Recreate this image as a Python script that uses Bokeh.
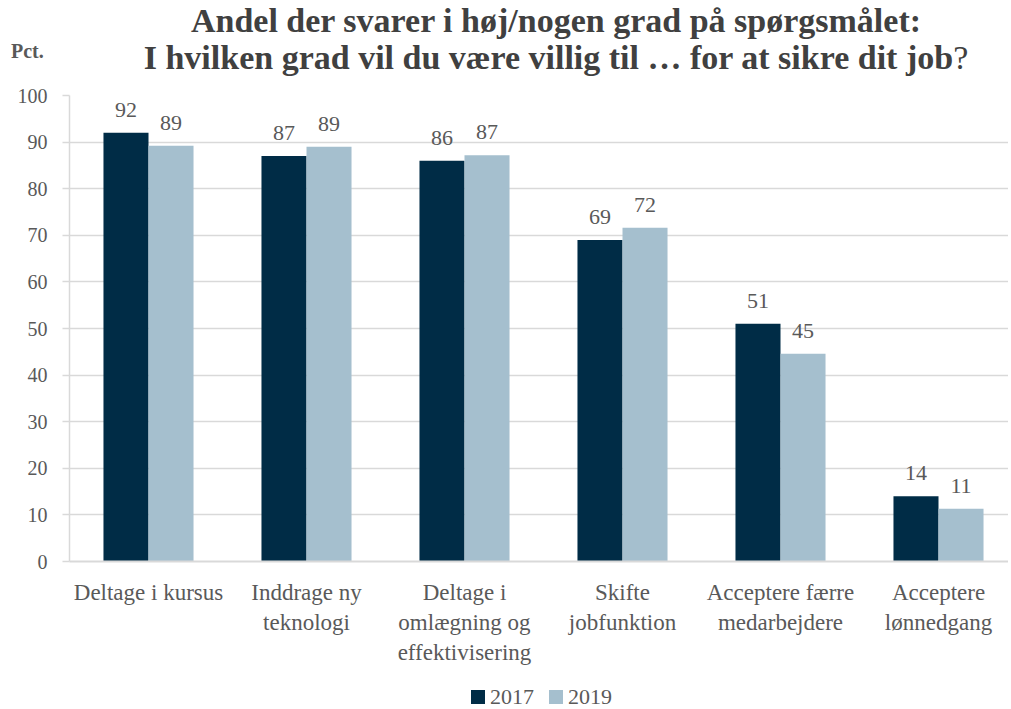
from bokeh.plotting import figure
from bokeh.layouts import column
from bokeh.models import ColumnDataSource, FixedTicker, Div
from bokeh.core.properties import value
from bokeh.embed import file_html
from bokeh.resources import INLINE

categories = ["Deltage i kursus", "Inddrage ny\nteknologi", "Deltage i\nomlægning og\neffektivisering",
              "Skifte\njobfunktion", "Acceptere færre\nmedarbejdere", "Acceptere\nlønnedgang"]
v2017 = [92, 87, 86, 69, 51, 14]
v2019 = [89.2, 89.0, 87.2, 71.6, 44.6, 11.3]
series = ["2017", "2019"]
colors = ["#002C46", "#A5BFCE"]
title_line1 = "Andel der svarer i høj/nogen grad på spørgsmålet:"
title_line2 = "I hvilken grad vil du være villig til … for at sikre dit job"
y_unit = "Pct."
y_ticks = [0, 10, 20, 30, 40, 50, 60, 70, 80, 90, 100]

FONT = "Liberation Serif"
GRAY = "#595959"
DARK = "#404040"
GRID = "#D9D9D9"

W = 1008
HEAD = 80          # header height (title)
LEG = 25           # legend strip height
H = 706 - HEAD - LEG
L = 69             # frame left
T = 95 - HEAD      # frame top within figure
B = 561 - HEAD     # frame bottom within figure

header = Div(text=(
    f'<div style="position:relative;width:{W}px;height:{HEAD}px;font-family:\'{FONT}\';color:{DARK};">'
    f'<div style="position:absolute;left:106px;top:2px;width:900px;text-align:center;'
    f'font-size:34px;font-weight:bold;line-height:37px;white-space:nowrap;">'
    f'{title_line1}<br>{title_line2}<span style="font-weight:normal">?</span></div>'
    f'<div style="position:absolute;left:11px;top:41px;font-size:20px;font-weight:bold;'
    f'line-height:20px;color:{GRAY};">{y_unit}</div></div>'),
    width=W, height=HEAD, margin=0)

p = figure(width=W, height=H, output_backend="svg", toolbar_location=None,
           x_range=(0, (W - L) / 158.0), y_range=(0, 100),
           min_border_left=L, min_border_right=0, min_border_top=T, min_border_bottom=H - B)
p.outline_line_color = None
p.background_fill_color = "white"

bw = 0.285
centers = [i + 0.5 for i in range(len(categories))]
x17 = [c - bw / 2 for c in centers]
x19 = [c + bw / 2 for c in centers]
s17 = ColumnDataSource(dict(x=x17, top=v2017, lab=[f"{round(v)}" for v in v2017]))
s19 = ColumnDataSource(dict(x=x19, top=v2019, lab=[f"{round(v)}" for v in v2019]))
p.vbar(x="x", top="top", width=bw, bottom=0, source=s17, fill_color=colors[0], line_color=None)
p.vbar(x="x", top="top", width=bw, bottom=0, source=s19, fill_color=colors[1], line_color=None)

for s in (s17, s19):
    p.text(x="x", y="top", text="lab", source=s, text_align="center", text_baseline="bottom",
           y_offset=-16, text_font=value(FONT), text_font_size="22px", text_color=GRAY)

# axes
p.xaxis.ticker = FixedTicker(ticks=centers)
p.xaxis.major_label_overrides = {c: lab for c, lab in zip(centers, categories)}
p.xaxis.major_tick_line_color = None
p.xaxis.minor_tick_line_color = None
p.xaxis.axis_line_color = GRID
p.xaxis.axis_line_width = 2
p.xaxis.major_label_text_font = FONT
p.xaxis.major_label_text_font_size = "23px"
p.xaxis.major_label_text_color = GRAY
p.xaxis.major_label_standoff = 12

p.yaxis.ticker = FixedTicker(ticks=y_ticks)
p.yaxis.axis_line_color = GRID
p.yaxis.axis_line_width = 1.5
p.yaxis.major_tick_line_color = GRID
p.yaxis.major_tick_line_width = 1.5
p.yaxis.major_tick_out = 7
p.yaxis.major_tick_in = 0
p.yaxis.minor_tick_line_color = None
p.yaxis.major_label_text_font = FONT
p.yaxis.major_label_text_font_size = "20px"
p.yaxis.major_label_text_color = GRAY
p.yaxis.major_label_standoff = 15

p.xgrid.grid_line_color = None
p.ygrid.ticker = FixedTicker(ticks=y_ticks)
p.ygrid.grid_line_color = GRID
p.ygrid.grid_line_width = 1.5

# legend strip below the chart
sw_x = [471, 549]
tx_x = [490, 568]
items = "".join(
    f'<span style="position:absolute;left:{sx}px;top:9px;width:14px;height:14px;background:{c};"></span>'
    f'<span style="position:absolute;left:{tx}px;top:5px;line-height:22px;">{s}</span>'
    for sx, tx, c, s in zip(sw_x, tx_x, colors, series))
footer = Div(text=(
    f'<div style="position:relative;width:{W}px;height:{LEG}px;font-family:\'{FONT}\';'
    f'font-size:22px;color:{GRAY};">{items}</div>'), width=W, height=LEG, margin=0)

open("out.html", "w").write(file_html(column(header, p, footer, spacing=0), INLINE))
